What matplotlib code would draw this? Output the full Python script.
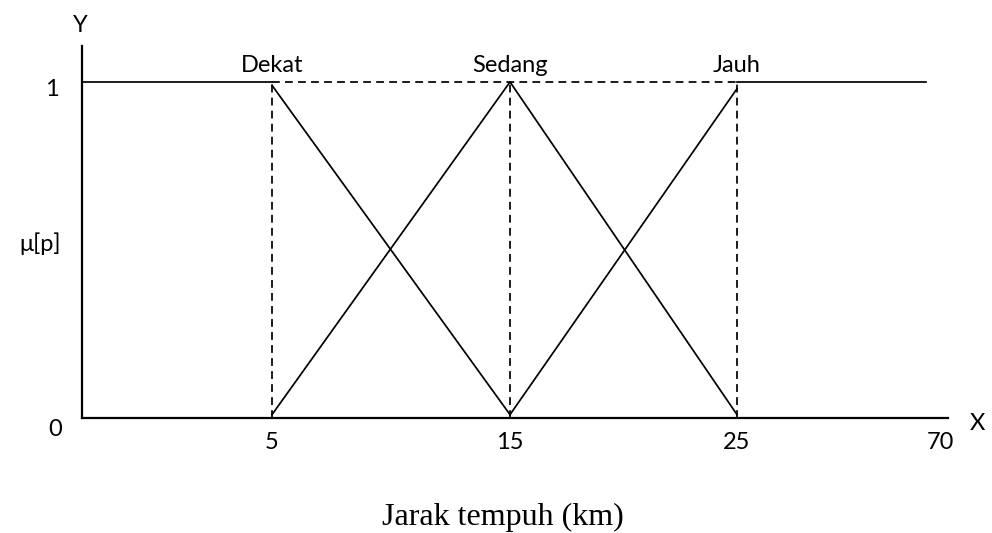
import matplotlib.pyplot as plt
import numpy as np

# knots of the uneven x axis (km) and where they sit along the axis
x_knots = [0, 5, 15, 25, 70, 100]
x_place = [0, 190, 428, 655, 858, 993]

x_ticks = [5, 15, 25, 70]

dekat_x = [0, 5, 15]
dekat_y = [1, 1, 0]
sedang_x = [5, 15, 25]
sedang_y = [0, 1, 0]
jauh_x = [15, 25, 67]
jauh_y = [0, 1, 1]

sets = ['Dekat', 'Sedang', 'Jauh']
set_peaks = [5, 15, 25]


def fwd(x):
    return np.interp(x, x_knots, x_place)


def inv(p):
    return np.interp(p, x_place, x_knots)


fig = plt.figure(figsize=(9.92, 5.33), dpi=100)
ax = fig.add_axes([82 / 992, 115 / 533, 866 / 992, 372 / 533])
ax.set_xscale('function', functions=(fwd, inv))
ax.set_xlim(0, inv(866))
ax.set_ylim(0, 1.107)

lw = 1.25
fs = 17
ax.plot(dekat_x[:2], dekat_y[:2], color='black', lw=lw)
ax.plot(dekat_x[1:], [0.99, 0.01], color='black', lw=lw)
ax.plot(sedang_x, [0.01, 1, 0.01], color='black', lw=lw)
ax.plot(jauh_x[:2], [0.01, 0.98], color='black', lw=lw)
ax.plot(jauh_x[1:], jauh_y[1:], color='black', lw=lw)

# guide lines
ax.plot([set_peaks[0], set_peaks[-1]], [1, 1], color='black', lw=lw,
        dashes=(4.5, 3))
for p in set_peaks:
    ax.plot([p, p], [0, 1], color='black', lw=lw, dashes=(4.5, 3))

for name, p in zip(sets, set_peaks):
    ax.annotate(name, (p, 1), xytext=(0, 6), textcoords='offset pixels',
                ha='center', va='bottom', fontsize=fs, family='Lato')

for s in ['top', 'right']:
    ax.spines[s].set_visible(False)
for s in ['left', 'bottom']:
    ax.spines[s].set_linewidth(1.6)

ax.set_xticks(x_ticks)
ax.set_xticklabels([str(t) for t in x_ticks], fontsize=fs, family='Lato')
ax.tick_params(axis='x', length=0, pad=10)
ax.set_yticks([])

ax.annotate('1', (0, 1), xytext=(-30, -8), textcoords='offset pixels',
            ha='center', va='center', fontsize=fs, family='Lato')
ax.annotate('0', (0, 0), xytext=(-27, -12), textcoords='offset pixels',
            ha='center', va='center', fontsize=fs, family='Lato')
ax.annotate('μ[p]', (0, 0.52), xytext=(-42, 0), textcoords='offset pixels',
            ha='center', va='center', fontsize=fs, family='Lato')
ax.annotate('Y', (0, 1.107), xytext=(-2, 20), textcoords='offset pixels',
            ha='center', va='center', fontsize=fs, family='Lato',
            annotation_clip=False)
ax.annotate('X', (inv(866), 0), xytext=(29, -5), textcoords='offset pixels',
            ha='center', va='center', fontsize=fs, family='Lato',
            annotation_clip=False)

fig.text(503 / 992, 1 - 517 / 533, 'Jarak tempuh (km)', ha='center',
         va='center', fontsize=23, family='Liberation Serif')

fig.savefig('out.png', dpi=100)
